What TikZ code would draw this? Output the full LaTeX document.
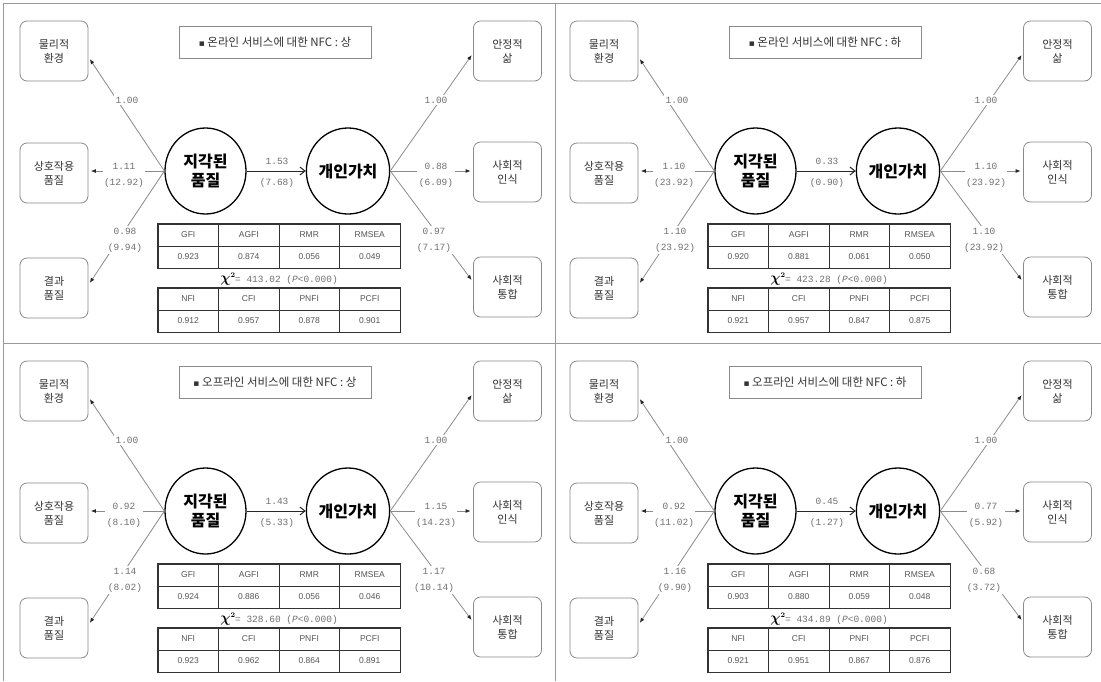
\documentclass[tikz,border=0pt]{standalone}
\usepackage{fontspec}
\usetikzlibrary{arrows.meta,shapes.geometric}
\newfontfamily\kr{Noto Sans CJK KR}
\newfontfamily\dv{DejaVu Sans}
\newfontfamily\monof{Liberation Mono}
\newfontfamily\tsans{Liberation Sans}
\definecolor{boxgray}{HTML}{8A8A8A}
\definecolor{linegray}{HTML}{8C8C8C}
\definecolor{labgray}{HTML}{707070}
\definecolor{boxtext}{HTML}{333333}
\definecolor{frame}{HTML}{9A9A9A}
\definecolor{tabline}{HTML}{333333}
\definecolor{tabtext}{HTML}{555555}
\tikzset{
  ibox/.style={draw=boxgray, line width=0.8pt, rounded corners=7pt, minimum width=68pt, minimum height=60pt, inner sep=0pt, align=center, text=boxtext, font=\kr\fontsize{11}{14}\selectfont},
  titlebox/.style={draw=boxgray, line width=0.8pt, minimum width=192pt, minimum height=32pt, inner sep=0pt, text=boxtext, font=\kr\fontsize{11.5}{13}\selectfont},
  lat/.style={ellipse, draw=black, line width=1.3pt, minimum width=81pt, minimum height=86pt, inner sep=0pt, align=center, font=\kr\bfseries\fontsize{16}{19}\selectfont},
  ld/.style={draw=linegray, line width=0.8pt, shorten >=2.5pt, -{Latex[length=5pt,width=4pt,color=black!85]}},
  md/.style={draw=black!85, line width=1pt, -{Straight Barb[length=5pt,width=8pt]}},
  lab/.style={fill=white, inner sep=1.5pt, align=center, text=labgray, font=\monof\fontsize{9.5}{16}\selectfont},
  mlab/.style={inner sep=1pt, text=labgray, font=\monof\fontsize{9.5}{11}\selectfont},
  cell/.style={draw=tabline, line width=0.6pt, minimum width=60.5pt, minimum height=22pt, inner sep=0pt, text=tabtext, font=\tsans\fontsize{8.5}{10}\selectfont},
  tabout/.style={draw=tabline, line width=1.2pt},
  chi/.style={inner sep=0pt, text=black},
  framel/.style={draw=frame, line width=1pt}
}
\newcommand\panel[4]{%
\begin{scope}[shift={(#1,#2)}, name prefix=#3-]
  \node[ibox] (pe) at (54,51) {물리적\\환경};
  \node[ibox] (iq) at (54,173) {상호작용\\품질};
  \node[ibox] (oq) at (54,288) {결과\\품질};
  \node[ibox] (sl) at (507.5,51) {안정적\\삶};
  \node[ibox] (sr) at (507.5,172) {사회적\\인식};
  \node[ibox] (si) at (507.5,287) {사회적\\통합};
  \node[titlebox] (tt) at (275,42) {{\dv\fontsize{9}{10}\selectfont ▪} #4};
  \node[lat] (pq) at (205.5,171) {지각된\\품질};
  \node[lat] (pv) at (348,171) {개인가치};
  \draw[ld] (pq.west) -- ([yshift=-6pt]pe.east);
  \draw[ld] (pq.west) -- (pq.west -| iq.east);
  \draw[ld] (pq.west) -- ([yshift=3pt]oq.east);
  \draw[ld] (pv.east) -- ([yshift=-2pt]sl.west);
  \draw[ld] (pv.east) -- (pv.east -| sr.west);
  \draw[ld] (pv.east) -- ([yshift=5pt]si.west);
  \draw[md] (pq) -- (pv);
  \node[lab] (la) at (127,100) {1.00};
  \node[lab] (lb) at (124,175) {\Lb\\\Lbt};
  \node[lab] (lc) at (125,240) {\Lc\\\Lct};
  \node[lab] (ra) at (436,100) {1.00};
  \node[lab] (rb) at (436,175) {\Rb\\\Rbt};
  \node[lab] (rc) at (434,240) {\Rc\\\Rct};
  \node[mlab] (ma) at (277,161) {\Mv};
  \node[mlab] (mb) at (277,183) {\Mt};
  \node[cell] (g1) at (188.25,235) {GFI};
  \node[cell] (g2) at (248.75,235) {AGFI};
  \node[cell] (g3) at (309.25,235) {RMR};
  \node[cell] (g4) at (369.75,235) {RMSEA};
  \node[cell] (a1) at (188.25,257) {\Ta};
  \node[cell] (a2) at (248.75,257) {\Tb};
  \node[cell] (a3) at (309.25,257) {\Tc};
  \node[cell] (a4) at (369.75,257) {\Td};
  \draw[tabout] (g1.north west) rectangle (a4.south east);
  \node[chi] (cs) at (279,279) {{\fontsize{14}{14}\selectfont\boldmath$\chi$}\raisebox{5pt}{\fontsize{7}{7}\selectfont\bfseries 2}{\color{labgray}\monof\fontsize{9.5}{10}\selectfont = \Cv\ (\textit{P}<0.000)}};
  \node[cell] (n1) at (188.25,299) {NFI};
  \node[cell] (n2) at (248.75,299) {CFI};
  \node[cell] (n3) at (309.25,299) {PNFI};
  \node[cell] (n4) at (369.75,299) {PCFI};
  \node[cell] (b1) at (188.25,321) {\Te};
  \node[cell] (b2) at (248.75,321) {\Tf};
  \node[cell] (b3) at (309.25,321) {\Tg};
  \node[cell] (b4) at (369.75,321) {\Th};
  \draw[tabout] (n1.north west) rectangle (b4.south east);
\end{scope}}
\begin{document}
\begin{tikzpicture}[x=1pt,y=-1pt]
  \useasboundingbox (0,0) rectangle (1101,681);
  \fill[white] (0,0) rectangle (1101,681);
  \coordinate (f1) at (3,681);
  \coordinate (f2) at (3,3);
  \coordinate (f3) at (1101,3);
  \coordinate (f4) at (555,3);
  \coordinate (f5) at (555,681);
  \coordinate (f6) at (3,343);
  \coordinate (f7) at (1101,343);
  \draw[framel] (f1) -- (f2) -- (f3);
  \draw[framel] (f4) -- (f5);
  \draw[framel] (f6) -- (f7);
  % panel 1
  \def\Lb{1.11}\def\Lbt{(12.92)}\def\Lc{0.98}\def\Lct{(9.94)}
  \def\Rb{0.88}\def\Rbt{(6.09)}\def\Rc{0.97}\def\Rct{(7.17)}
  \def\Mv{1.53}\def\Mt{(7.68)}
  \def\Ta{0.923}\def\Tb{0.874}\def\Tc{0.056}\def\Td{0.049}
  \def\Te{0.912}\def\Tf{0.957}\def\Tg{0.878}\def\Th{0.901}
  \def\Cv{413.02}
  \panel{0}{0}{p1}{온라인 서비스에 대한 NFC : 상}
  % panel 2
  \def\Lb{1.10}\def\Lbt{(23.92)}\def\Lc{1.10}\def\Lct{(23.92)}
  \def\Rb{1.10}\def\Rbt{(23.92)}\def\Rc{1.10}\def\Rct{(23.92)}
  \def\Mv{0.33}\def\Mt{(0.90)}
  \def\Ta{0.920}\def\Tb{0.881}\def\Tc{0.061}\def\Td{0.050}
  \def\Te{0.921}\def\Tf{0.957}\def\Tg{0.847}\def\Th{0.875}
  \def\Cv{423.28}
  \panel{550}{0}{p2}{온라인 서비스에 대한 NFC : 하}
  % panel 3
  \def\Lb{0.92}\def\Lbt{(8.10)}\def\Lc{1.14}\def\Lct{(8.02)}
  \def\Rb{1.15}\def\Rbt{(14.23)}\def\Rc{1.17}\def\Rct{(10.14)}
  \def\Mv{1.43}\def\Mt{(5.33)}
  \def\Ta{0.924}\def\Tb{0.886}\def\Tc{0.056}\def\Td{0.046}
  \def\Te{0.923}\def\Tf{0.962}\def\Tg{0.864}\def\Th{0.891}
  \def\Cv{328.60}
  \panel{0}{340}{p3}{오프라인 서비스에 대한 NFC : 상}
  % panel 4
  \def\Lb{0.92}\def\Lbt{(11.02)}\def\Lc{1.16}\def\Lct{(9.90)}
  \def\Rb{0.77}\def\Rbt{(5.92)}\def\Rc{0.68}\def\Rct{(3.72)}
  \def\Mv{0.45}\def\Mt{(1.27)}
  \def\Ta{0.903}\def\Tb{0.880}\def\Tc{0.059}\def\Td{0.048}
  \def\Te{0.921}\def\Tf{0.951}\def\Tg{0.867}\def\Th{0.876}
  \def\Cv{434.89}
  \panel{550}{340}{p4}{오프라인 서비스에 대한 NFC : 하}
\end{tikzpicture}
\end{document}
